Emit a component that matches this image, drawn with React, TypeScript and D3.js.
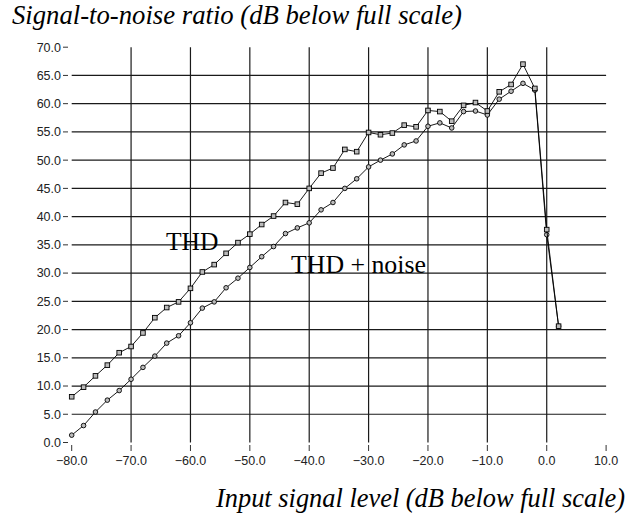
import React from 'react';
import * as d3 from 'd3';

// input level (dB below full scale)
const levels = [
  -80, -78, -76, -74, -72, -70, -68, -66, -64, -62, -60, -58, -56, -54,
  -52, -50, -48, -46, -44, -42, -40, -38, -36, -34, -32, -30, -28, -26,
  -24, -22, -20, -18, -16, -14, -12, -10, -8, -6, -4, -2, 0, 2,
];

// THD (squares)
const thd = [
  8.1, 9.8, 11.8, 13.7, 15.9, 17.0, 19.4, 22.1, 23.9, 24.9, 27.3, 30.2, 31.5, 33.5,
  35.4, 36.9, 38.6, 40.1, 42.5, 42.2, 45.0, 47.7, 48.6, 51.9, 51.5, 54.9, 54.5, 54.8,
  56.2, 55.9, 58.8, 58.6, 56.9, 59.7, 60.2, 58.7, 62.1, 63.4, 67.0, 62.7, 37.7, 20.6,
];

// THD + noise (circles)
const thdNoise = [
  1.3, 3.0, 5.4, 7.5, 9.2, 11.2, 13.3, 15.3, 17.6, 18.9, 21.2, 23.8, 24.9, 27.4,
  29.1, 31.0, 32.9, 34.7, 37.0, 38.0, 38.9, 41.2, 42.5, 45.0, 46.7, 48.8, 50.0, 51.1,
  52.7, 53.4, 56.0, 56.6, 55.7, 58.6, 58.7, 58.0, 60.8, 62.2, 63.6, 62.4, 36.8, 20.6,
];

const xTicks = [-80, -70, -60, -50, -40, -30, -20, -10, 0, 10];
const yTicks = [0, 5, 10, 15, 20, 25, 30, 35, 40, 45, 50, 55, 60, 65, 70];

const W = 632;
const H = 524;

const App = () => {
  const x = d3.scaleLinear().domain([-80, 10]).range([71.7, 606.1]);
  const y = d3.scaleLinear().domain([0, 70]).range([442.5, 47.2]);

  const line = d3.line<number>()
    .x((_, i) => x(levels[i]))
    .y(d => y(d));

  const fmt = (v: number) => (v < 0 ? '\u2212' + Math.abs(v).toFixed(1) : v.toFixed(1));
  const tickFont = 'Liberation Sans, Arial, sans-serif';
  const serif = 'Liberation Serif, Times New Roman, serif';
  const grid = '#1a1a1a';

  return (
    <svg width={W} height={H} style={{ position: 'fixed', left: 0, top: 0, background: '#fff' }}>
      <rect width={W} height={H} fill="#fff" />
      <text x={12} y={24} fontFamily={serif} fontStyle="italic" fontSize={26.7} fill="#000">
        Signal-to-noise ratio (dB below full scale)
      </text>

      {/* horizontal grid */}
      {yTicks.filter(v => v > 0 && v < 70).map(v => (
        <line key={'h' + v} x1={x(-80)} x2={x(10)} y1={y(v)} y2={y(v)} stroke={grid} strokeWidth={1.2} />
      ))}
      {/* vertical grid */}
      {xTicks.filter(v => v > -80 && v < 10).map(v => (
        <line key={'v' + v} x1={x(v)} x2={x(v)} y1={y(70)} y2={y(0)} stroke={grid} strokeWidth={1.2} />
      ))}

      {/* y axis ticks */}
      {yTicks.map(v => (
        <g key={'yt' + v}>
          <line x1={63} x2={68} y1={y(v)} y2={y(v)} stroke="#333" strokeWidth={1} />
          <text x={61} y={y(v)} dy="0.35em" textAnchor="end" fontFamily={tickFont} fontSize={12.5} fill="#222">
            {v.toFixed(1)}
          </text>
        </g>
      ))}

      {/* x axis ticks */}
      {xTicks.map(v => (
        <g key={'xt' + v}>
          <line x1={x(v)} x2={x(v)} y1={445} y2={451} stroke="#333" strokeWidth={1} />
          <text x={x(v)} y={465} textAnchor="middle" fontFamily={tickFont} fontSize={12.5} fill="#222">
            {fmt(v)}
          </text>
        </g>
      ))}

      {/* THD + noise */}
      <path d={line(thdNoise) || ''} fill="none" stroke="#000" strokeWidth={0.9} />
      {thdNoise.map((d, i) => (
        <circle key={'c' + i} cx={x(levels[i])} cy={y(d)} r={2.3} fill="#bbb" stroke="#000" strokeWidth={0.9} />
      ))}

      {/* THD */}
      <path d={line(thd) || ''} fill="none" stroke="#000" strokeWidth={0.9} />
      {thd.map((d, i) => (
        <rect key={'s' + i} x={x(levels[i]) - 2.3} y={y(d) - 2.3} width={4.6} height={4.6} fill="#bbb" stroke="#000" strokeWidth={0.9} />
      ))}

      <text x={166} y={250} fontFamily={serif} fontSize={25.5} fill="#000">THD</text>
      <text x={291} y={273} fontFamily={serif} fontSize={25.8} fill="#000">THD + noise</text>

      <text x={216} y={507} fontFamily={serif} fontStyle="italic" fontSize={26.4} fill="#000">
        Input signal level (dB below full scale)
      </text>
    </svg>
  );
};

export default App;
